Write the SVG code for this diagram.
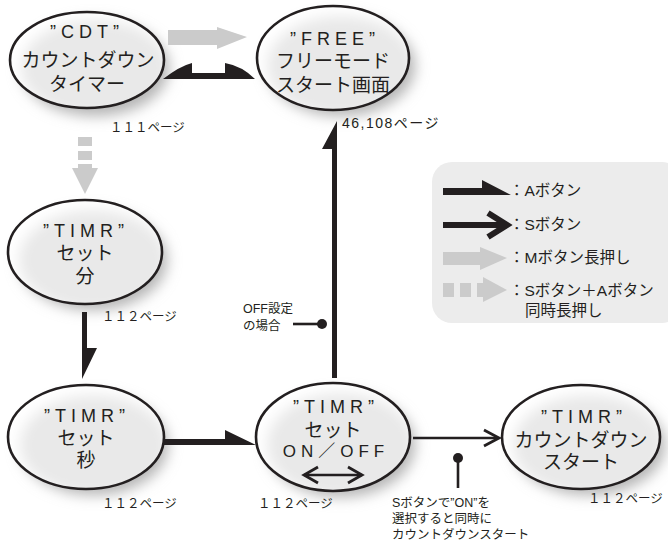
<svg xmlns="http://www.w3.org/2000/svg" width="668" height="543" viewBox="0 0 668 543">
<defs>
<filter id="blur" x="-30%" y="-30%" width="160%" height="160%"><feGaussianBlur stdDeviation="7"/></filter>
<style>
.t{font-family:"Liberation Sans","Noto Sans CJK JP",sans-serif;fill:#231f20}
.n{font-size:19px;text-anchor:middle}
.q{font-size:18px;text-anchor:middle;letter-spacing:5px}
.p{font-size:12.5px}
.s{font-size:12.5px}
.l{font-size:15.5px}
.el{fill:#fff;fill-opacity:0.7;stroke:#231f20;stroke-width:2.6}
.sh{fill:#b4b4b4;filter:url(#blur)}
.blk{fill:#231f20}
.gry{fill:#cbcbcb}
.ln{stroke:#231f20;stroke-width:2.6;fill:none}
.chev{stroke:#231f20;fill:none;stroke-linejoin:miter}
</style>
</defs>
<rect width="668" height="543" fill="#fff"/>

<g id="legend">
<rect x="432" y="162" width="250" height="161" rx="20" fill="#ececec"/>
<polygon class="blk" points="443,188 482,188 482,180 511,195 443,195"/>
<text class="t l" x="509" y="196">：Aボタン</text>
<path class="chev" stroke-width="6" d="M443,225 L503,225 M488,213 L507,225 L488,237"/>
<text class="t l" x="509" y="230">：Sボタン</text>
<polygon class="gry" points="443,252 480,252 480,247 507,258 480,270 480,265 443,265"/>
<text class="t l" x="509" y="263">：Mボタン長押し</text>
<rect class="gry" x="443" y="283" width="11" height="14"/>
<rect class="gry" x="460" y="283" width="11" height="14"/>
<polygon class="gry" points="477,283 483,283 483,277 507,290 483,302 483,297 477,297"/>
<text class="t l" x="509" y="296">：Sボタン＋Aボタン</text>
<text class="t l" x="525" y="316">同時長押し</text>
</g>

<g id="node-cdt">
<ellipse class="sh" cx="95" cy="68" rx="74" ry="48"/>
<ellipse class="el" cx="87" cy="60" rx="77" ry="48"/>
<text class="t q" x="87" y="38">”CDT”</text>
<text class="t n" x="88" y="67">カウントダウン</text>
<text class="t n" x="87" y="91">タイマー</text>
<text class="t p" x="110" y="132">１１１ページ</text>
</g>

<g id="node-free">
<ellipse class="sh" cx="341" cy="66" rx="74" ry="50"/>
<ellipse class="el" cx="333" cy="58" rx="76" ry="52"/>
<text class="t q" x="335" y="45">”FREE”</text>
<text class="t n" x="333" y="68">フリーモード</text>
<text class="t n" x="333" y="92">スタート画面</text>
<text class="t p" x="342" y="128" style="font-size:14px;letter-spacing:1.5px">46,108ページ</text>
</g>

<g id="node-min">
<ellipse class="sh" cx="93" cy="260" rx="74" ry="50"/>
<ellipse class="el" cx="85" cy="252" rx="77" ry="52"/>
<text class="t q" x="86" y="237">”TIMR”</text>
<text class="t n" x="85" y="260">セット</text>
<text class="t n" x="85" y="283">分</text>
<text class="t p" x="102" y="321">１１２ページ</text>
</g>

<g id="node-sec">
<ellipse class="sh" cx="94" cy="445" rx="74" ry="50"/>
<ellipse class="el" cx="86" cy="437" rx="78" ry="52"/>
<text class="t q" x="87" y="422">”TIMR”</text>
<text class="t n" x="86" y="445">セット</text>
<text class="t n" x="86" y="467">秒</text>
<text class="t p" x="102" y="508">１１２ページ</text>
</g>

<g id="node-onoff">
<ellipse class="sh" cx="341" cy="445" rx="74" ry="52"/>
<ellipse class="el" cx="333" cy="437" rx="77" ry="54"/>
<text class="t q" x="336" y="413">”TIMR”</text>
<text class="t n" x="333" y="437">セット</text>
<text class="t q" x="336" y="457" style="font-size:17px">ON／OFF</text>
<path class="ln" d="M304,475 H362"/>
<path class="chev" stroke-width="2.8" d="M318,467 L304,475 L318,483 M348,467 L362,475 L348,483"/>
<text class="t p" x="258" y="508">１１２ページ</text>
</g>

<g id="node-countdown">
<ellipse class="sh" cx="589" cy="445" rx="76" ry="50"/>
<ellipse class="el" cx="581" cy="437" rx="79" ry="52"/>
<text class="t q" x="584" y="423">”TIMR”</text>
<text class="t n" x="581" y="447">カウントダウン</text>
<text class="t n" x="581" y="469">スタート</text>
<text class="t p" x="588" y="503">１１２ページ</text>
</g>

<g id="connectors">
<polygon class="gry" points="168,30 217,30 217,27 247,37 217,49 217,45 168,45"/>
<path class="blk" d="M163,79 Q180,66 192,63 L192,73 L225,73 L225,63 Q242,66 255,79 Z"/>
<rect class="gry" x="78" y="137" width="14" height="9"/>
<rect class="gry" x="78" y="151" width="14" height="9"/>
<polygon class="gry" points="78,164 92,164 92,168 98,168 85,194 72,168 78,168"/>
<polygon class="blk" points="82,312 87,312 87,348 97,348 82,379"/>
<polygon class="blk" points="163,439 225,439 225,430 256,445 163,445"/>
<polygon class="blk" points="332,378 337,378 337,121 322,149 332,149"/>
<path class="ln" d="M413,438 H497"/>
<path class="chev" stroke-width="2.8" d="M484,430 L499,438 L484,446"/>
</g>

<g id="note-off">
<text class="t s" x="243" y="313">OFF設定</text>
<text class="t s" x="243" y="330">の場合</text>
<path class="ln" d="M293,324 H320"/>
<circle cx="322" cy="324" r="5" class="blk"/>
</g>

<g id="note-on">
<circle cx="458" cy="458" r="5" class="blk"/>
<path class="ln" d="M458,458 V488"/>
<text class="t s" x="392" y="507">Sボタンで”ON”を</text>
<text class="t s" x="392" y="523">選択すると同時に</text>
<text class="t s" x="392" y="539">カウントダウンスタート</text>
</g>
</svg>
